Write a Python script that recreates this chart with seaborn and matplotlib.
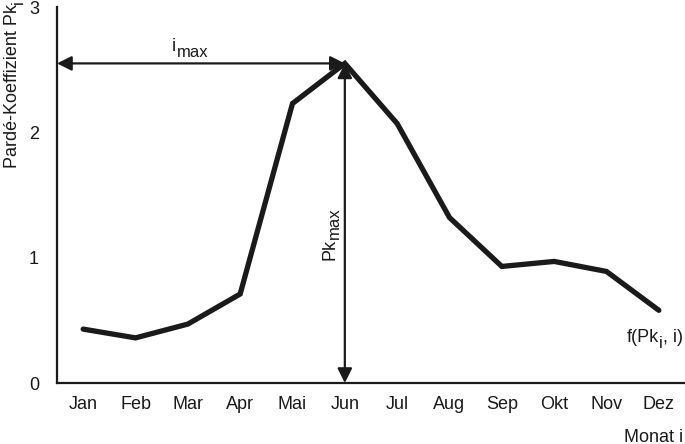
import numpy as np
import pandas as pd
import matplotlib
matplotlib.use("Agg")
import matplotlib.pyplot as plt
import seaborn as sns

months = ["Jan", "Feb", "Mar", "Apr", "Mai", "Jun", "Jul", "Aug", "Sep", "Okt", "Nov", "Dez"]
pk_values = [0.43, 0.36, 0.47, 0.71, 2.23, 2.55, 2.07, 1.32, 0.93, 0.97, 0.89, 0.58]
y_ticks = [0, 1, 2, 3]

sns.set_theme(style="white")
plt.rcParams["font.family"] = ["Liberation Sans", "DejaVu Sans"]

FS = 13
SUB = 12
INK = "#1a1a1a"
fig = plt.figure(figsize=(6.85, 4.44), dpi=100)
ax = fig.add_axes([57 / 685, 61 / 444, 1 - 57 / 685, 376 / 444])

df = pd.DataFrame({"pos": np.arange(len(months)) + 0.5, "pk": pk_values})
sns.lineplot(data=df, x="pos", y="pk", ax=ax, color=INK, linewidth=3.8,
             solid_joinstyle="miter")

ax.set_xlim(0, 12)
ax.set_ylim(0, 3)
ax.set_xticks(np.arange(13))
ax.set_xticklabels([])
ax.set_xticks(np.arange(12) + 0.5, minor=True)
ax.set_xticklabels(months, minor=True, fontsize=FS, color=INK)
ax.tick_params(axis="x", which="minor", length=0, pad=9)
ax.tick_params(axis="x", which="major", length=8, width=1.6, color=INK, direction="out")
ax.set_yticks(y_ticks)
ax.set_yticklabels([str(t) for t in y_ticks], fontsize=FS, color=INK)
ax.tick_params(axis="y", length=8, width=1.6, color=INK, direction="out", pad=5)
ax.set_xlabel("")
ax.set_ylabel("")
for s in ["top", "right"]:
    ax.spines[s].set_visible(False)
for s in ["left", "bottom"]:
    ax.spines[s].set_linewidth(1.6)
    ax.spines[s].set_color(INK)
ax.patch.set_alpha(0)

imax = int(np.argmax(pk_values))
xpk = imax + 0.5
ypk = pk_values[imax]
arrow = dict(arrowstyle="<|-|>", color=INK, lw=1.6, mutation_scale=22,
             shrinkA=0, shrinkB=0)
ax.annotate("", xy=(0, ypk), xytext=(xpk, ypk), arrowprops=arrow, annotation_clip=False)
ax.annotate("", xy=(xpk, 0), xytext=(xpk, ypk), arrowprops=arrow, annotation_clip=False)


def sub_h(base, sub, x, y, transform, ha="left", rest=None, rest_dx=0.5):
    t = fig.text(x, y, base, fontsize=FS, ha=ha, va="baseline", color=INK, transform=transform)
    s = ax.annotate(sub, xy=(1, 0), xycoords=t, xytext=(0.3, -3.5),
                    textcoords="offset points", fontsize=SUB, ha="left", va="bottom", color=INK)
    if rest is not None:
        ax.annotate(rest, xy=(1, 0), xycoords=s, xytext=(rest_dx, 3.5),
                    textcoords="offset points", fontsize=FS, ha="left", va="bottom", color=INK)
    return t


def sub_v(base, sub, x, y, transform, va="bottom", ha="center"):
    t = fig.text(x, y, base, fontsize=FS, ha=ha, va=va, rotation=90, color=INK,
                 transform=transform)
    ax.annotate(sub, xy=(1, 1), xycoords=t, xytext=(3.0, 0.3),
                textcoords="offset points", fontsize=SUB, ha="right", va="bottom",
                rotation=90, color=INK)
    return t


# i_max label
sub_h("i", "max", xpk / 2 - 0.55, ypk + 0.1, ax.transData)
# Pk_max label
sub_v("Pk", "max", xpk - 0.29, 0.98, ax.transData, va="bottom")
# f(Pk_i, i) label
sub_h("f(Pk", "i", 10.88, 0.33, ax.transData, rest=", i)", rest_dx=0.3)

fig.text(683 / 685, 1 - 437 / 444, "Monat i", fontsize=FS, ha="right", va="center",
         color=INK)
sub_v("Pardé-Koeffizient Pk", "i", 13 / 685, 1 - 168 / 444, fig.transFigure, va="bottom")

fig.savefig("out.png", dpi=100)
